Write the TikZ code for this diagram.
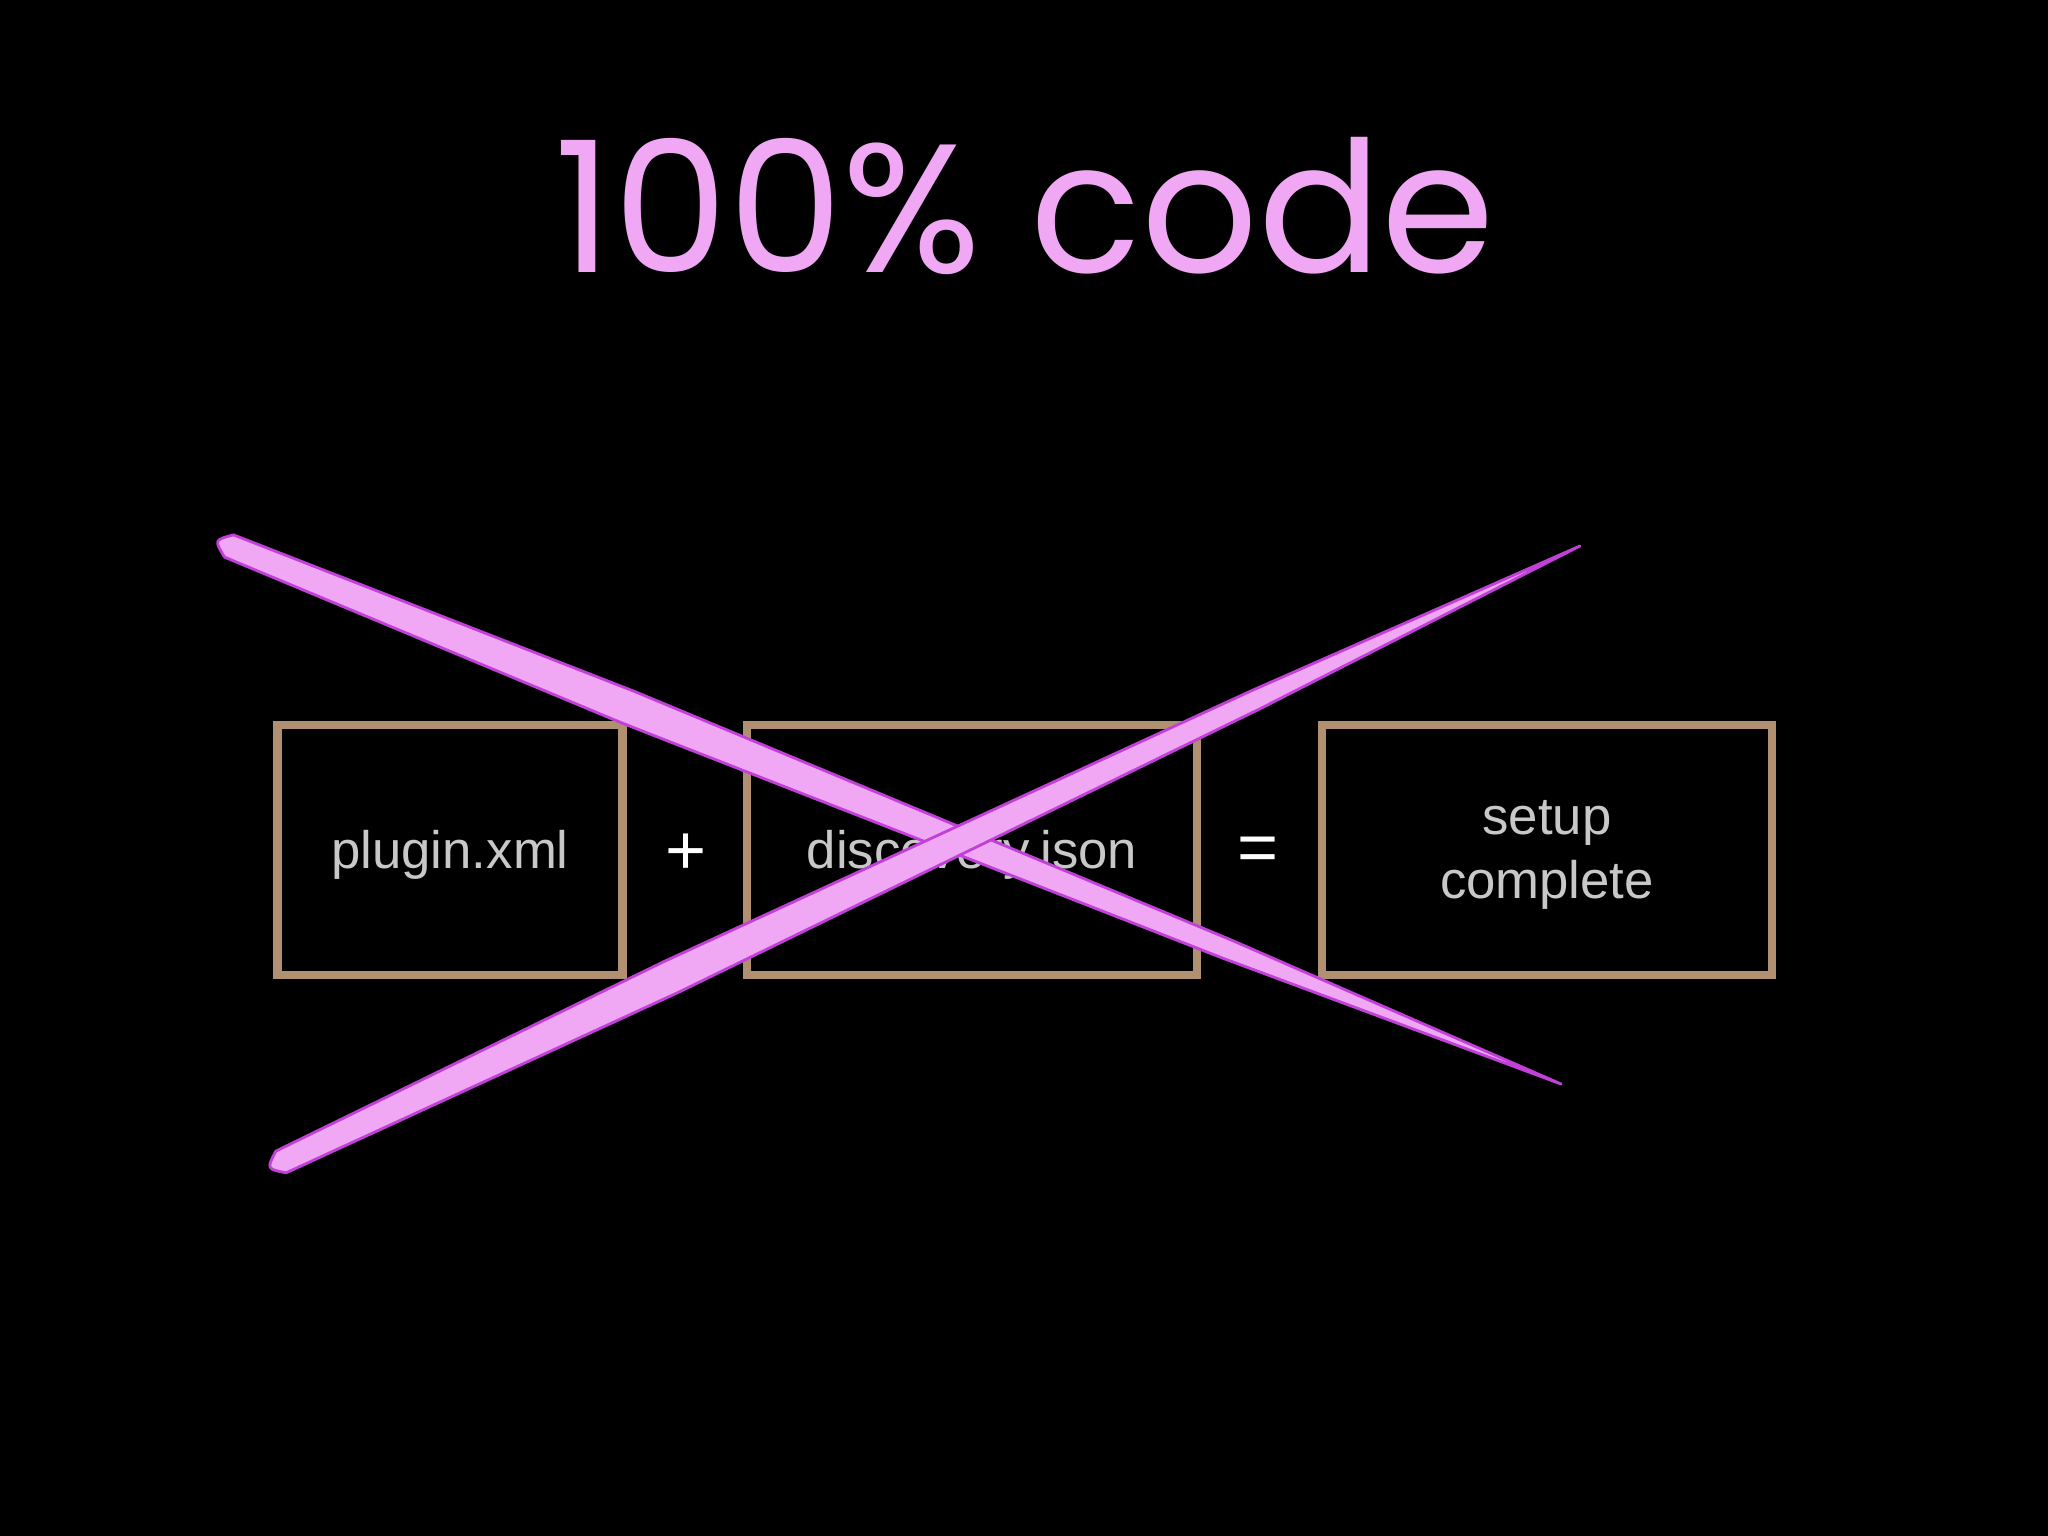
\documentclass[tikz,border=0pt]{standalone}
\usepackage{fontspec}
\setmainfont{Liberation Sans}
\newfontfamily\titlefont{Poppins}
\usetikzlibrary{calc}
\definecolor{neon}{HTML}{F0A8F4}
\definecolor{neonedge}{HTML}{C040D8}
\definecolor{tan}{HTML}{B09070}
\definecolor{lbl}{HTML}{C8C8C8}
\tikzset{
  box/.style={draw=tan,line width=2.5pt,minimum width=3.45cm,minimum height=2.5cm,inner sep=0pt},
  lab/.style={text=lbl,font=\fontsize{15}{18}\selectfont,align=center},
  op/.style={text=white,font=\fontsize{20}{22}\selectfont},
  stroke/.style={fill=neon,draw=neonedge,line width=0.8pt,line join=round}
}
\begin{document}
\begin{tikzpicture}
\fill[black] (0,0) rectangle (20.48,15.36);
\useasboundingbox (0,0) rectangle (20.48,15.36);
\node[text=neon,font=\titlefont\fontsize{52}{60}\selectfont] (title) at (10.25,13.3) {100\% code};
\node[box] (b1) at (4.50,6.86) {};
\node[box,minimum width=4.5cm] (b2) at (9.72,6.86) {};
\node[box,minimum width=4.5cm] (b3) at (15.47,6.86) {};
\node[lab] (t1) at ($(b1)+(0,-0.05)$) {plugin.xml};
\node[lab] (t2) at ($(b2)+(0,-0.05)$) {discovery.json};
\node[lab] (t3) at ($(b3)+(0,-0.05)$) {setup\\complete};
\node[op] (plus) at (6.86,6.82) {+};
\node[op] (eq) at (12.58,6.82) {=};
\coordinate (A1) at (2.29,9.90);
\coordinate (B1) at (15.61,4.52);
\coordinate (A2) at (2.81,3.74);
\coordinate (B2) at (15.80,9.90);
\foreach \A/\B in {A1/B1,A2/B2}{
\path[stroke] ($(\A)!0.12cm!90:(\B)$)
  -- ($($(\A)!0.3!(\B)$)!0.17cm!90:(\B)$)
  -- ($($(\A)!0.75!(\B)$)!0.1cm!90:(\B)$)
  -- (\B)
  -- ($($(\A)!0.75!(\B)$)!0.1cm!-90:(\B)$)
  -- ($($(\A)!0.3!(\B)$)!0.17cm!-90:(\B)$)
  -- ($(\A)!0.12cm!-90:(\B)$)
  .. controls ($(\A)!-0.16cm!0:(\B)$) .. cycle;
}
\end{tikzpicture}
\end{document}
